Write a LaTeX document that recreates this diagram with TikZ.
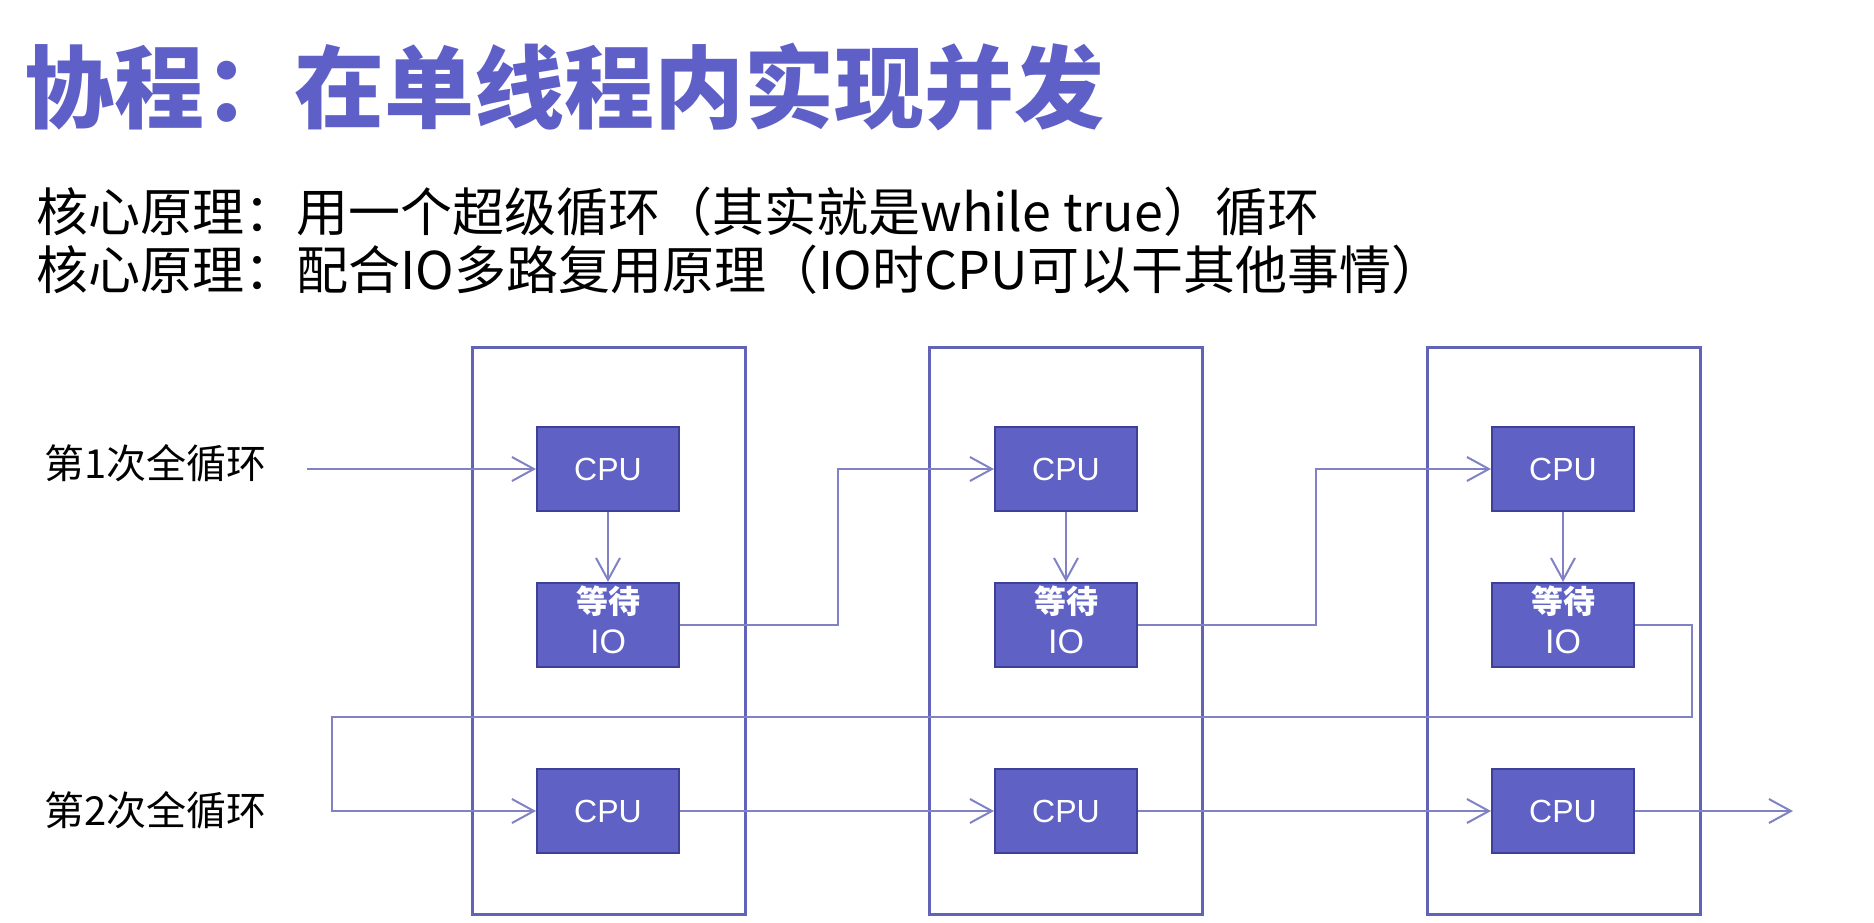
\documentclass[tikz,border=0pt]{standalone}
\usepackage{fontspec}
\setmainfont{Noto Sans CJK SC}
\newfontfamily\latinsans{Liberation Sans}
\usepackage{tikz}
\usetikzlibrary{arrows.meta, positioning}
\definecolor{titleblue}{RGB}{94,96,200}
\definecolor{taskfill}{RGB}{95,97,197}
\definecolor{taskline}{RGB}{62,63,150}
\definecolor{loopline}{RGB}{96,99,184}
\definecolor{flowline}{RGB}{128,130,196}
\newcommand{\waitio}{\raisebox{3pt}{\begin{tabular}{@{}c@{}}{\bfseries 等待}\\{\latinsans\fontsize{17}{20}\selectfont IO}\end{tabular}}}

\begin{document}
\begin{tikzpicture}[x=0.5pt, y=-0.5pt,
        loopbox/.style={rectangle, draw=loopline, line width=1.5pt, minimum width=136.5pt, minimum height=283.5pt},
        cpubox/.style={rectangle, draw=taskline, line width=1pt, fill=taskfill, text=white, minimum width=71pt, minimum height=42pt, inner sep=0pt, font=\latinsans\fontsize{16}{20}\selectfont},
        iobox/.style={cpubox, font=\fontsize{16}{20}\selectfont},
        flow/.style={draw=flowline, line width=1pt, -{Straight Barb[length=11pt, width=12pt, line width=1pt]}},
        rowlabel/.style={anchor=west, inner sep=0pt, font=\fontsize{20}{24}\selectfont}
    ]
        \useasboundingbox (0,0) rectangle (1874,922);

        % heading
        \node[anchor=west, inner sep=0pt, text=titleblue, font=\bfseries\fontsize{45}{54}\selectfont] (title) at (24,87) {协程：在单线程内实现并发};
        \node[anchor=west, inner sep=0pt, font=\fontsize{26}{30}\selectfont] (idea1) at (36,212) {核心原理：用一个超级循环（其实就是while true）循环};
        \node[anchor=west, inner sep=0pt, font=\fontsize{26}{30}\selectfont] (idea2) at (36,270) {核心原理：配合IO多路复用原理（IO时CPU可以干其他事情）};

        % outer loop frames
        \node[loopbox] (frameA) at (608.5,630.5) {};
        \node[loopbox] (frameB) at (1066,630.5) {};
        \node[loopbox] (frameC) at (1563.5,630.5) {};

        \node[rowlabel] (round1) at (44,463) {第1次全循环};
        \node[rowlabel] (round2) at (44,810) {第2次全循环};

        % first round
        \node[cpubox] (cpuA1) at (608,469) {CPU};
        \node[cpubox] (cpuA2) at (1066,469) {CPU};
        \node[cpubox] (cpuA3) at (1563,469) {CPU};
        \node[iobox, below=35pt of cpuA1] (ioA1) {\waitio};
        \node[iobox, below=35pt of cpuA2] (ioA2) {\waitio};
        \node[iobox, below=35pt of cpuA3] (ioA3) {\waitio};

        % second round
        \node[cpubox] (cpuB1) at (608,811) {CPU};
        \node[cpubox] (cpuB2) at (1066,811) {CPU};
        \node[cpubox] (cpuB3) at (1563,811) {CPU};

        \coordinate (start1) at (307,469);
        \coordinate (loopR) at (1692,717);
        \coordinate (loopL) at (332,717);
        \coordinate (end2) at (1793,811);

        \draw[flow] (start1) -- (cpuA1.west);
        \draw[flow] (cpuA1) -- (ioA1);
        \draw[flow] (cpuA2) -- (ioA2);
        \draw[flow] (cpuA3) -- (ioA3);
        \draw[flow] (ioA1.east) -- ++(158,0) |- (cpuA2.west);
        \draw[flow] (ioA2.east) -- ++(178,0) |- (cpuA3.west);
        \draw[flow] (ioA3.east) -| (loopR) -- (loopL) |- (cpuB1.west);
        \draw[flow] (cpuB1) -- (cpuB2);
        \draw[flow] (cpuB2) -- (cpuB3);
        \draw[flow] (cpuB3.east) -- (end2);
    \end{tikzpicture}
\end{document}
